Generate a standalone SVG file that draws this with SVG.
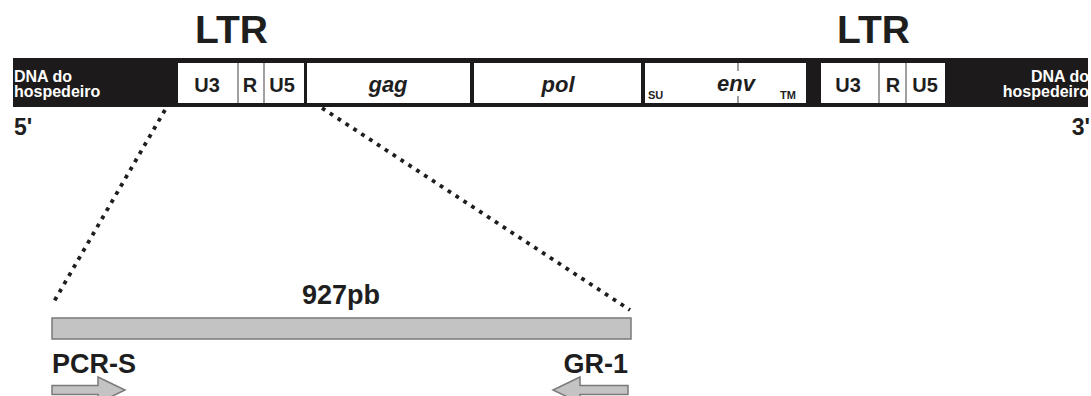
<svg xmlns="http://www.w3.org/2000/svg" width="1091" height="396" viewBox="0 0 1091 396">
<style>
text{font-family:"Liberation Sans",Arial,sans-serif;font-weight:bold;fill:#1e1e1e}
.w{fill:#ffffff}
.box{fill:#ffffff;stroke:none}
.div{stroke:#6e6e6e;stroke-width:1.3}
.seg{font-size:20px;text-anchor:middle}
.gene{font-size:22px;font-style:italic;text-anchor:middle}
.small{font-size:11px}
.host{font-size:16px}
.end{font-size:23px}
.ltr{font-size:39px}
.lbl{font-size:27px}
.dot{stroke:#1e1e1e;stroke-width:3.8;stroke-dasharray:3.8 5.6;fill:none}
.gray{fill:#c3c3c3;stroke:#7a7a7a;stroke-width:1.5}
</style>
<rect width="1091" height="396" fill="#ffffff"/>
<g id="provirus">
<rect x="13" y="58" width="1075" height="49" fill="#1c1a1a"/>
</g>
<g id="host-left">
<text class="w host" x="14" y="82">DNA do</text>
<text class="w host" x="14" y="97">hospedeiro</text>
</g>
<g id="host-right">
<text class="w host" x="1089" y="82" style="text-anchor:end">DNA do</text>
<text class="w host" x="1089" y="97" style="text-anchor:end">hospedeiro</text>
</g>
<g id="ltr-left">
<rect class="box" x="178" y="63" width="126" height="40"/>
<line class="div" x1="238" y1="63" x2="238" y2="103"/>
<line class="div" x1="264" y1="63" x2="264" y2="103"/>
<text class="seg" x="207" y="92">U3</text>
<text class="seg" x="250" y="92">R</text>
<text class="seg" x="282" y="92">U5</text>
<text class="ltr" x="195" y="43">LTR</text>
</g>
<g id="gag">
<rect class="box" x="307" y="63" width="163" height="40"/>
<text class="gene" x="388" y="92">gag</text>
</g>
<g id="pol">
<rect class="box" x="474" y="63" width="167" height="40"/>
<text class="gene" x="558" y="92">pol</text>
</g>
<g id="env">
<rect class="box" x="645" y="63" width="161" height="40"/>
<line class="div" x1="738" y1="63" x2="738" y2="71"/>
<line class="div" x1="738" y1="96" x2="738" y2="103"/>
<text class="gene" x="736" y="91">env</text>
<text class="small" x="648" y="99">SU</text>
<text class="small" x="780" y="99">TM</text>
</g>
<g id="ltr-right">
<rect class="box" x="821" y="63" width="124" height="40"/>
<line class="div" x1="879" y1="63" x2="879" y2="103"/>
<line class="div" x1="906" y1="63" x2="906" y2="103"/>
<text class="seg" x="848" y="92">U3</text>
<text class="seg" x="893" y="92">R</text>
<text class="seg" x="925" y="92">U5</text>
<text class="ltr" x="837" y="43">LTR</text>
</g>
<g id="ends">
<text class="end" x="14" y="135">5'</text>
<text class="end" x="1090" y="135" style="text-anchor:end">3'</text>
</g>
<g id="connectors">
<line class="dot" x1="165" y1="110" x2="52" y2="305"/>
<line class="dot" x1="322" y1="108" x2="630" y2="310"/>
</g>
<g id="amplicon">
<rect class="gray" x="52" y="318" width="579" height="21"/>
<text class="lbl" x="302" y="304">927pb</text>
</g>
<g id="primer-pcr-s">
<text class="lbl" x="52" y="373">PCR-S</text>
<path class="gray" d="M52 385.5 H98 V377 L125 390 L98 403 V394.5 H52 Z"/>
</g>
<g id="primer-gr-1">
<text class="lbl" x="628" y="373" style="text-anchor:end">GR-1</text>
<path class="gray" d="M628 385.5 H580 V377 L553 390 L580 403 V394.5 H628 Z"/>
</g>
</svg>
